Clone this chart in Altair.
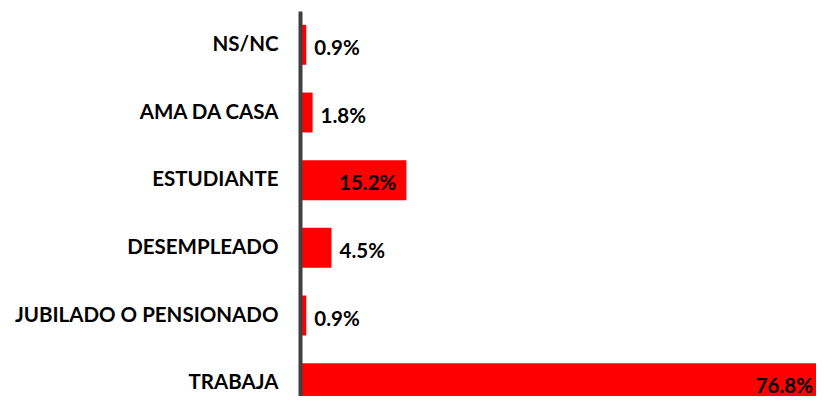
import altair as alt
import pandas as pd

categories = ["NS/NC", "AMA DA CASA", "ESTUDIANTE", "DESEMPLEADO",
              "JUBILADO O PENSIONADO", "TRABAJA"]
values = [0.9, 1.8, 15.2, 4.5, 0.9, 76.8]
labels = ["0.9%", "1.8%", "15.2%", "4.5%", "0.9%", "76.8%"]

df = pd.DataFrame({"cat": categories, "val": values, "label": labels})

FONT = "Lato"
FS = 20.5
VIEW_W = 516
PX_PER_UNIT = 7.0
VISIBLE_MAX = VIEW_W / PX_PER_UNIT

y_scale = alt.Scale(range=[0, 406], paddingInner=0.41, paddingOuter=0.205)
y_enc = alt.Y(
    "cat:N", sort=categories, title=None, scale=y_scale,
    axis=alt.Axis(labelFontSize=FS, labelFont=FONT, labelFontWeight="bold",
                  labelColor="#000000", ticks=False, domainColor="#404040",
                  domainWidth=4, labelPadding=22,
                  grid=False, labelLimit=400, zindex=1),
)
x_scale = alt.Scale(domain=[0, 80], range=[0, 80 * PX_PER_UNIT])
x_enc = alt.X("val:Q", scale=x_scale, axis=None)

base = alt.Chart(df)

bars = base.mark_bar(color="#FF0000").encode(x=x_enc, y=y_enc)

text_style = dict(fontSize=FS, font=FONT, fontWeight="bold", color="#000000", dy=4)

inside = base.transform_filter("datum.val > 10").transform_calculate(
    pos=f"min(datum.val - 10 / {PX_PER_UNIT}, {VISIBLE_MAX} - 3 / {PX_PER_UNIT})"
).mark_text(align="right", **text_style).encode(
    x=alt.X("pos:Q", scale=x_scale, axis=None),
    y=alt.Y("cat:N", sort=categories), text="label:N")

outside = base.transform_filter("datum.val <= 10").mark_text(
    align="left", dx=8, **text_style
).encode(x=x_enc, y=alt.Y("cat:N", sort=categories), text="label:N")

chart = alt.layer(bars, inside, outside).properties(
    width=VIEW_W, height=385,
    padding={"left": 292, "top": 3, "right": 0, "bottom": 0},
    autosize=alt.AutoSizeParams(type="none"),
).configure_view(stroke=None)

chart.save("out.html", embed_options={"renderer": "svg", "actions": False})
